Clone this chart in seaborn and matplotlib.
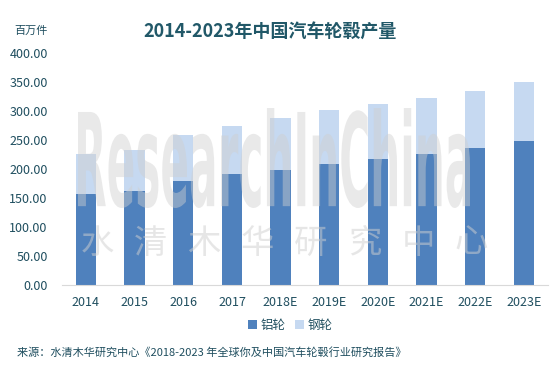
import pandas as pd
import matplotlib
matplotlib.use('Agg')
import matplotlib.pyplot as plt
import seaborn as sns
from matplotlib.textpath import TextPath
from matplotlib.patches import PathPatch
from matplotlib.font_manager import FontProperties
from matplotlib.transforms import Affine2D

years = ['2014', '2015', '2016', '2017', '2018E', '2019E', '2020E', '2021E', '2022E', '2023E']
aluminium = [157, 162, 179, 191, 198, 208, 217, 226, 236, 248]
steel = [69, 71, 80, 83, 90, 94, 95, 96, 98, 102]

df = pd.DataFrame({'年份': years, '铝轮': aluminium, '钢轮': steel})
df['合计'] = df['铝轮'] + df['钢轮']

sns.set_style('white')
plt.rcParams['font.family'] = ['Noto Sans CJK SC', 'DejaVu Sans']

txt = '#1F4E5F'
fig = plt.figure(figsize=(5.6, 3.67), dpi=100)
ax = fig.add_axes([0.11, 0.223, 0.869, 0.633])

# 钢轮叠在铝轮上面：先画合计，再画铝轮
sns.barplot(x='年份', y='合计', data=df, color='#C6D9F1', width=0.42,
            saturation=1, ax=ax, label='钢轮', zorder=2, linewidth=0)
sns.barplot(x='年份', y='铝轮', data=df, color='#4F81BD', width=0.42,
            saturation=1, ax=ax, label='铝轮', zorder=2, linewidth=0)

ax.set_ylim(0, 400)
ax.set_yticks(range(0, 401, 50))
ax.set_yticklabels([f'{v:.2f}' for v in range(0, 401, 50)])
ax.set_xlim(-0.5, len(years) - 0.5)
ax.set_xlabel('')
ax.set_ylabel('')
ax.tick_params(axis='both', labelsize=9, colors=txt, length=0)
ax.tick_params(axis='y', pad=10)
ax.tick_params(axis='x', pad=8)
for s in ['top', 'right', 'left']:
    ax.spines[s].set_visible(False)
ax.spines['bottom'].set_color('#D9D9D9')

# 水印（压窄的英文 + 中文）
tp = TextPath((0, 0), 'ResearchInChina', size=1,
              prop=FontProperties(family='DejaVu Sans', weight='bold'))
bb = tp.get_extents()
sx = (392 / 560) / bb.width
sy = (100 / 367) / bb.height
tr = Affine2D().translate(-bb.x0, -bb.y0).scale(sx, sy).translate(78 / 560, 1 - 208 / 367)
fig.add_artist(PathPatch(tp, transform=tr + fig.transFigure, facecolor='#CFCFCF',
                         edgecolor='none', alpha=0.45, zorder=5))
for i, ch in enumerate('水清木华研究中心'):
    fig.text((97 + i * 53.5) / 560, 1 - 243 / 367, ch, fontsize=24, color='#CFCFCF',
             alpha=0.5, ha='center', va='center', zorder=5)

h, l = ax.get_legend_handles_labels()
order = [l.index('铝轮'), l.index('钢轮')]
ax.legend([h[i] for i in order], [l[i] for i in order], loc='center',
          bbox_to_anchor=(0.47, -0.172), ncol=2, frameon=False, fontsize=9,
          handlelength=0.7, handleheight=0.7, handletextpad=0.3, columnspacing=0.8,
          labelcolor=txt)

fig.text(270 / 560, 0.915, '2014-2023年中国汽车轮毂产量', fontsize=13, fontweight='bold',
         color='#215868', ha='center', va='center')
fig.text(0.055, 0.915, '百万件', fontsize=8, color=txt, ha='center', va='center')
fig.text(0.03, 0.04, '来源：水清木华研究中心《2018-2023 年全球你及中国汽车轮毂行业研究报告》',
         fontsize=8, color=txt, ha='left', va='center')

fig.savefig('out.png', dpi=100)
